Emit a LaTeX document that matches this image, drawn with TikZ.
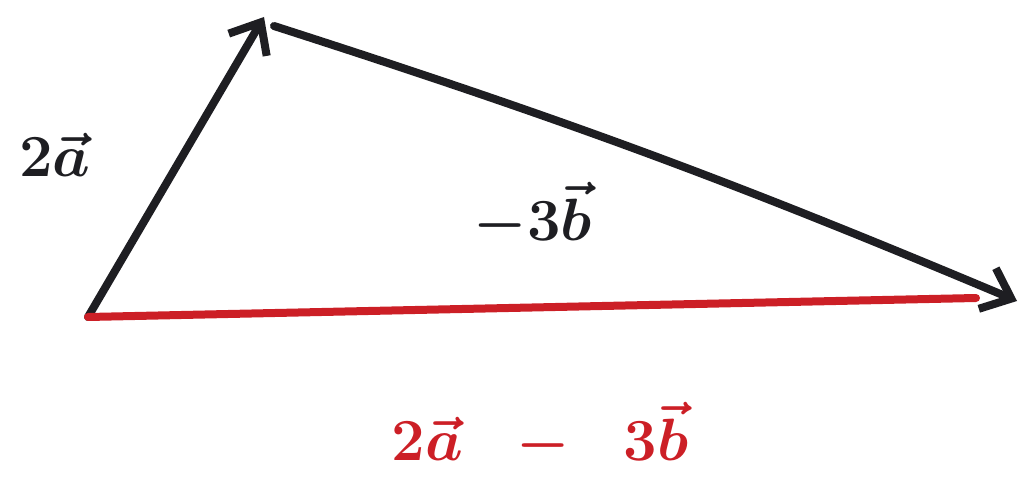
\documentclass[tikz,border=0pt]{standalone}
\usetikzlibrary{arrows.meta}
\definecolor{pen}{HTML}{1E1E22}
\definecolor{redpen}{HTML}{CC1F26}
\tikzset{
  vec/.style={line width=8pt, draw=pen, line cap=round, line join=round,
    -{Straight Barb[length=26pt, width=44pt, line width=8pt]}},
  redline/.style={line width=8pt, draw=redpen, line cap=round},
  lbl/.style={font=\Huge\boldmath, inner sep=0pt, scale=2.4},
}
\begin{document}
\begin{tikzpicture}[x=1pt,y=1pt]
\useasboundingbox (0,0) rectangle (1023,477);
\coordinate (O) at (88,160);
\coordinate (A) at (264,460);
\coordinate (S) at (274,451);
\coordinate (B) at (1017,176);
\coordinate (R) at (976,179);
\draw[vec] (O) -- (A);
\draw[vec] (S) to[bend left=2.5] (B);
\draw[redline] (O) -- (R);
\node[lbl, text=pen] (la) at (55,322) {$2\vec{a}$};
\node[lbl, text=pen] (lb) at (533,262) {$-3\vec{b}$};
\node[lbl, text=redpen] (lc) at (540,42) {$2\vec{a}\;\;-\;\;3\vec{b}$};
\end{tikzpicture}
\end{document}
